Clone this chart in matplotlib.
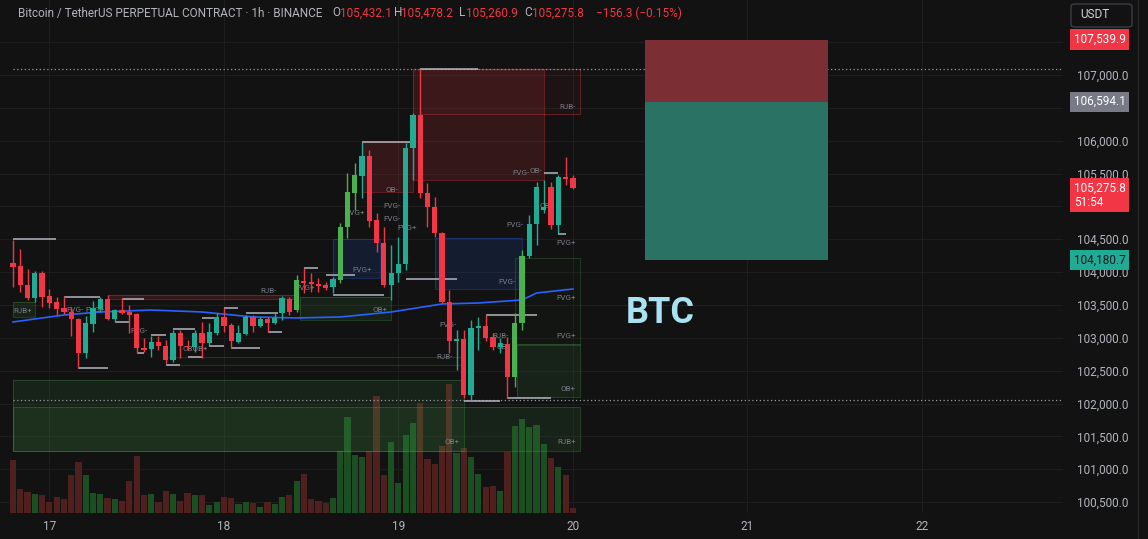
import matplotlib.pyplot as plt
import matplotlib.transforms as mtransforms
from matplotlib.patches import Rectangle, FancyBboxPatch

BG = '#121212'
UP = '#22ab94'
UP_BRIGHT = '#4caf50'
DOWN = '#f23645'
TXT = '#b2b5be'
LBL = '#787b86'

# ---- hourly candles, 16 Jun 19:00 -> 20 Jun 00:00 ----
opens = [104139, 104093, 103804, 103606, 103986, 103636, 103545, 103454, 103393, 103286,
         102769, 103210, 103439, 103591, 103286, 103423, 103393, 103363, 102845, 102830,
         102936, 102875, 102662, 103073, 102875, 102860, 103073, 102921, 103073, 103317,
         103195, 102936, 103058, 103317, 103180, 103286, 103225, 103378, 103591, 103423,
         103865, 103849, 103819, 103804, 103773, 103880, 104687, 105204, 105463, 105767,
         104793, 104443, 103804, 103986, 104123, 105889, 106391, 105204, 104991, 104595,
         103545, 102951, 102982, 102130, 103149, 103180, 103012, 102860, 102906, 102404,
         103225, 104245, 104732, 104945, 105295, 104717, 105448, 105432.1]
highs = [104489, 104352, 104047, 104017, 104017, 103743, 103621, 103636, 103469, 103302,
         103332, 103560, 103621, 103652, 103439, 103606, 103500, 103378, 102997, 103027,
         103027, 102967, 103119, 103119, 102967, 103119, 103241, 103225, 103378, 103454,
         103225, 103195, 103347, 103347, 103317, 103317, 103378, 103636, 103621, 103956,
         104063, 103986, 103910, 103849, 103926, 104747, 105508, 105661, 105980, 105859,
         104900, 104687, 104413, 104534, 105965, 106422, 107091, 105356, 105143, 104610,
         103728, 103119, 103119, 103271, 103317, 103347, 103073, 102997, 103012, 103378,
         104337, 104869, 105371, 105402, 105371, 105478, 105752, 105478.2]
lows = [103773, 103697, 103576, 103545, 103469, 103454, 103347, 103363, 103027, 102541,
        102693, 103088, 103393, 103271, 103241, 103370, 103073, 102769, 102784, 102708,
        102814, 102617, 102632, 102693, 102814, 102784, 102693, 102890, 103043, 103088,
        102845, 102921, 103043, 103088, 103164, 103088, 103210, 103271, 103347, 103393,
        103682, 103697, 103697, 103728, 103682, 103834, 104519, 104945, 105128, 104687,
        104306, 103773, 103576, 103849, 104032, 105402, 105128, 104687, 104534, 103530,
        102769, 102510, 102084, 102053, 102814, 102951, 102814, 102769, 102084, 102251,
        103119, 104215, 104413, 104900, 104656, 104595, 105326, 105260.9]
closes = [104078, 103804, 103606, 103986, 103621, 103530, 103439, 103393, 103286, 102769,
          103225, 103454, 103591, 103286, 103423, 103378, 103347, 102845, 102814, 102936,
          102875, 102662, 103073, 102875, 102860, 103073, 102921, 103088, 103317, 103180,
          102951, 103073, 103317, 103180, 103286, 103225, 103302, 103606, 103393, 103880,
          103834, 103819, 103789, 103758, 103895, 104687, 105219, 105478, 105767, 104778,
          104443, 103804, 103986, 104123, 105889, 106391, 105204, 104991, 104595, 103545,
          102951, 102982, 102130, 103149, 103180, 102997, 102860, 102921, 102404, 103225,
          104245, 104732, 105295, 104991, 104717, 105448, 105417, 105275.8]
volumes = [2120, 960, 840, 760, 720, 440, 640, 560, 1520, 2040,
           1520, 800, 760, 600, 560, 480, 1280, 2280, 720, 760,
           440, 880, 760, 480, 800, 720, 720, 320, 440, 640,
           600, 360, 440, 400, 240, 440, 360, 640, 720, 1280,
           1560, 560, 480, 400, 600, 2480, 3840, 2320, 2240, 2480,
           4680, 1520, 2840, 1200, 3120, 3600, 4400, 2160, 1960, 2680,
           5160, 2400, 2600, 2240, 1560, 1040, 1080, 880, 2440, 3480,
           3760, 3440, 3520, 2760, 2200, 1840, 1520, 200]
VOL_TOP = 20520
bright_up = [39, 45, 46, 47, 69, 70]

day_ticks = [5, 29, 53, 77, 101, 125]
day_labels = ['17', '18', '19', '20', '21', '22']
price_ticks = list(range(100500, 107501, 500))
hidden_ticks = [107500, 106500, 105000]   # covered by the coloured labels

# moving average read at a few candles
ma_idx = [0, 5, 7, 12, 19, 26, 33, 39, 45, 52, 59, 64, 70, 72, 77]
ma_val = [103241, 103317, 103347, 103393, 103423, 103393, 103317, 103302, 103317,
          103393, 103515, 103530, 103576, 103682, 103743]

# zones: (start idx, end idx, low, high, kind)
zones = [
    (55, 73, 105402, 107091, 'bear'),
    (56, 78, 106406, 107091, 'bear_line'),
    (48, 55, 105219, 105980, 'bear'),
    (13, 39, 103591, 103652, 'bear'),
    (44, 50.5, 103910, 104504, 'fvg'),
    (58, 70, 103743, 104519, 'fvg'),
    (0, 62, 101277, 102358, 'bull'),
    (0, 78, 101277, 101947, 'bull'),
    (69.3, 78, 102099, 102906, 'bull'),
    (0, 3, 103317, 103545, 'bull'),
    (39.5, 52, 103271, 103621, 'bull'),
    (21, 62, 102586, 102708, 'bull_line'),
    (69, 78, 102890, 104215, 'bull_line'),
]
zone_labels = [
    ('RJB-', 76.2, 106513), ('OB-', 52.1, 105250), ('FVG-', 52.1, 105006),
    ('FVG-', 52.1, 104808), ('FVG+', 54.2, 104671), ('FVG+', 47, 104900),
    ('FVG+', 48, 104032), ('FVG-', 69.9, 105508), ('OB-', 71.9, 105539),
    ('OB-', 73.3, 105006), ('FVG-', 69, 104717), ('FVG+', 76, 104443),
    ('FVG-', 68, 103850), ('FVG+', 76, 103606), ('FVG+', 76, 103027),
    ('RJB-', 67, 103027), ('OB-', 67.4, 102860), ('OB+', 76.3, 102221),
    ('OB+', 60.4, 101414), ('RJB+', 76.2, 101414), ('RJB+', 1.3, 103408),
    ('FVG-', 8.5, 103423), ('FVG+', 11.3, 103423), ('FVG-', 17.3, 103104),
    ('OBOB+', 25, 102830), ('RJB-', 35.2, 103713), ('FVG+', 40.2, 103758),
    ('OB+', 50.5, 103423), ('FVG-', 59.8, 103195), ('RJB-', 59.4, 102708),
]
# swing levels: (start idx, end idx, price)
swings = [
    (0, 5.9, 104500), (9, 13, 102541), (7, 12, 103621), (15, 18, 103591),
    (14, 16, 103241), (17, 18, 102769), (19, 21, 103043), (21, 23, 102586),
    (22, 25, 103134), (24, 26, 102708), (26, 28, 103302), (27, 29, 102875),
    (29, 31, 103454), (30, 34, 102845), (32, 36.5, 103378), (35, 37, 103088),
    (40, 42, 104063), (43, 47, 103956), (44, 51, 103652), (48, 55, 105980),
    (54, 61, 103895), (56, 64, 107091), (65, 72, 103347), (62, 67, 102038),
    (68, 74, 102084), (73, 75, 105508), (75, 76, 104580),
]

# short position tool
pos_start, pos_end = 86.9, 112.1
stop_price, entry_price, target_price = 107539.9, 106594.1, 104180.7
last_price = 105275.8

plt.rcParams['font.family'] = ['Roboto', 'DejaVu Sans']

fig = plt.figure(figsize=(11.48, 5.39), dpi=100, facecolor=BG)
ax = fig.add_axes([0, 26 / 539, 1063 / 1148, 513 / 539])
ax.set_facecolor(BG)
n = len(opens)
xs = list(range(n))

# grid
for p in price_ticks:
    ax.axhline(p, color='#1e1e1e', lw=0.8, zorder=0.1)
for d in day_ticks:
    ax.axvline(d, color='#1e1e1e', lw=0.8, zorder=0.1)

# volume at the bottom
vtrans = mtransforms.blended_transform_factory(ax.transData, ax.transAxes)
vcol = ['#1b4f21' if c >= o else '#50201f' for o, c in zip(opens, closes)]
ax.bar(xs, [v / VOL_TOP for v in volumes], width=0.85, color=vcol,
       transform=vtrans, zorder=0.5)

# zones
styles = {
    'bear': ('#f23645', 0.15, 0.35),
    'bear_line': ('#f23645', 0.05, 0.35),
    'fvg': ('#2962ff', 0.13, 0.30),
    'bull': ('#4caf50', 0.10, 0.28),
    'bull_line': ('#4caf50', 0.02, 0.22),
}
for i0, i1, lo, hi, kind in zones:
    col, fa, ea = styles[kind]
    ax.add_patch(Rectangle((i0, lo), i1 - i0, hi - lo, facecolor=col, alpha=fa,
                           edgecolor='none', zorder=1))
    ax.add_patch(Rectangle((i0, lo), i1 - i0, hi - lo, facecolor='none',
                           edgecolor=col, alpha=ea, lw=0.8, zorder=1))

for t, xi, p in zone_labels:
    ax.text(xi, p, t, color=LBL, fontsize=5.8, ha='center', va='center', zorder=2.2)

# range high / low dotted
ax.hlines([max(highs), min(lows)], 0, 145, colors='#9598a1', linestyles=(0, (1, 2)),
          lw=0.9, zorder=1.5)

# swing levels
for i0, i1, p in swings:
    ax.plot([i0, i1], [p, p], color='#b2b5be', lw=1.3, alpha=0.85, zorder=2.5,
            solid_capstyle='butt')

# moving average
ax.plot(ma_idx, ma_val, color='#2962ff', lw=1.2, zorder=2)

# candles
ccol = []
for i, (o, c) in enumerate(zip(opens, closes)):
    if c >= o:
        ccol.append(UP_BRIGHT if i in bright_up else UP)
    else:
        ccol.append(DOWN)
ax.vlines(xs, lows, highs, colors=ccol, lw=1.0, zorder=3)
ax.bar(xs, [max(abs(c - o), 18) for o, c in zip(opens, closes)], width=0.72,
       bottom=[min(o, c) for o, c in zip(opens, closes)], color=ccol, zorder=3.1)

# position tool
ax.add_patch(Rectangle((pos_start, entry_price), pos_end - pos_start,
                       stop_price - entry_price, facecolor='#7b2f34', edgecolor='none',
                       zorder=1.8))
ax.add_patch(Rectangle((pos_start, target_price), pos_end - pos_start,
                       entry_price - target_price, facecolor='#2a7264', edgecolor='none',
                       zorder=1.8))

ax.text(89, 103378, 'BTC', color='#a9e3f2', fontsize=26, fontweight='bold',
        ha='center', va='center', zorder=4)

ax.set_xlim(-1.79, 144.4)
ax.set_ylim(100333.6, 108141.5)
ax.set_autoscale_on(False)

for s in ax.spines.values():
    s.set_visible(False)
ax.set_xticks(day_ticks, day_labels)
ax.yaxis.tick_right()
ax.set_yticks(price_ticks, ['' if p in hidden_ticks else f'{p:,.1f}' for p in price_ticks])
ax.tick_params(axis='x', length=0, colors=TXT, labelsize=8.5, pad=5)
ax.tick_params(axis='y', length=0, colors=TXT, labelsize=8.5, pad=10)

# coloured price-scale labels
ptrans = mtransforms.blended_transform_factory(ax.transAxes, ax.transData)
xl = 1 + 11 / 1063
for p, fc, tc in [(stop_price, DOWN, 'white'), (entry_price, '#787b86', 'white'),
                  (target_price, UP, '#131722')]:
    ax.text(xl, p, f'{p:,.1f}', transform=ptrans, color=tc, fontsize=8.5,
            ha='left', va='center', clip_on=False, zorder=6,
            bbox=dict(boxstyle='square,pad=0.3', fc=fc, ec='none'))
ax.annotate(f'{last_price:,.1f}\n51:54', xy=(xl, last_price), xycoords=ptrans,
            xytext=(0, 7), textcoords='offset pixels', color='white', fontsize=8.5,
            ha='left', va='top', linespacing=1.15, annotation_clip=False, zorder=6,
            bbox=dict(boxstyle='square,pad=0.3', fc=DOWN, ec='none'))

# USDT box
fig.patches.append(FancyBboxPatch((1071 / 1148, 1 - 27 / 539), 61 / 1148, 23 / 539,
                                  boxstyle='round,pad=0,rounding_size=0.004',
                                  transform=fig.transFigure, fc=BG, ec='#3a3d45',
                                  lw=1.0))
fig.text(1080 / 1148, 1 - 15 / 539, 'USDT', color='#d1d4dc', fontsize=8.5,
         va='center', ha='left')
fig.add_artist(plt.Line2D([1138 / 1148, 1138 / 1148], [0, 1], color='#262626',
                          lw=1, transform=fig.transFigure))

# header
hy = 1 - 13 / 539
fig.text(18 / 1148, hy, 'Bitcoin / TetherUS PERPETUAL CONTRACT · 1h · BINANCE',
         color='#b2b5be', fontsize=8.5, va='center')
for px, t, c in [(332, 'O', '#b2b5be'), (340, '105,432.1', DOWN),
                 (394, 'H', '#b2b5be'), (401, '105,478.2', DOWN),
                 (459, 'L', '#b2b5be'), (466, '105,260.9', DOWN),
                 (524, 'C', '#b2b5be'), (532, '105,275.8', DOWN),
                 (596, '\u2212156.3 (\u22120.15%)', DOWN)]:
    fig.text(px / 1148, hy, t, color=c, fontsize=8.5, va='center')

fig.savefig('out.png', dpi=100, facecolor=BG)
